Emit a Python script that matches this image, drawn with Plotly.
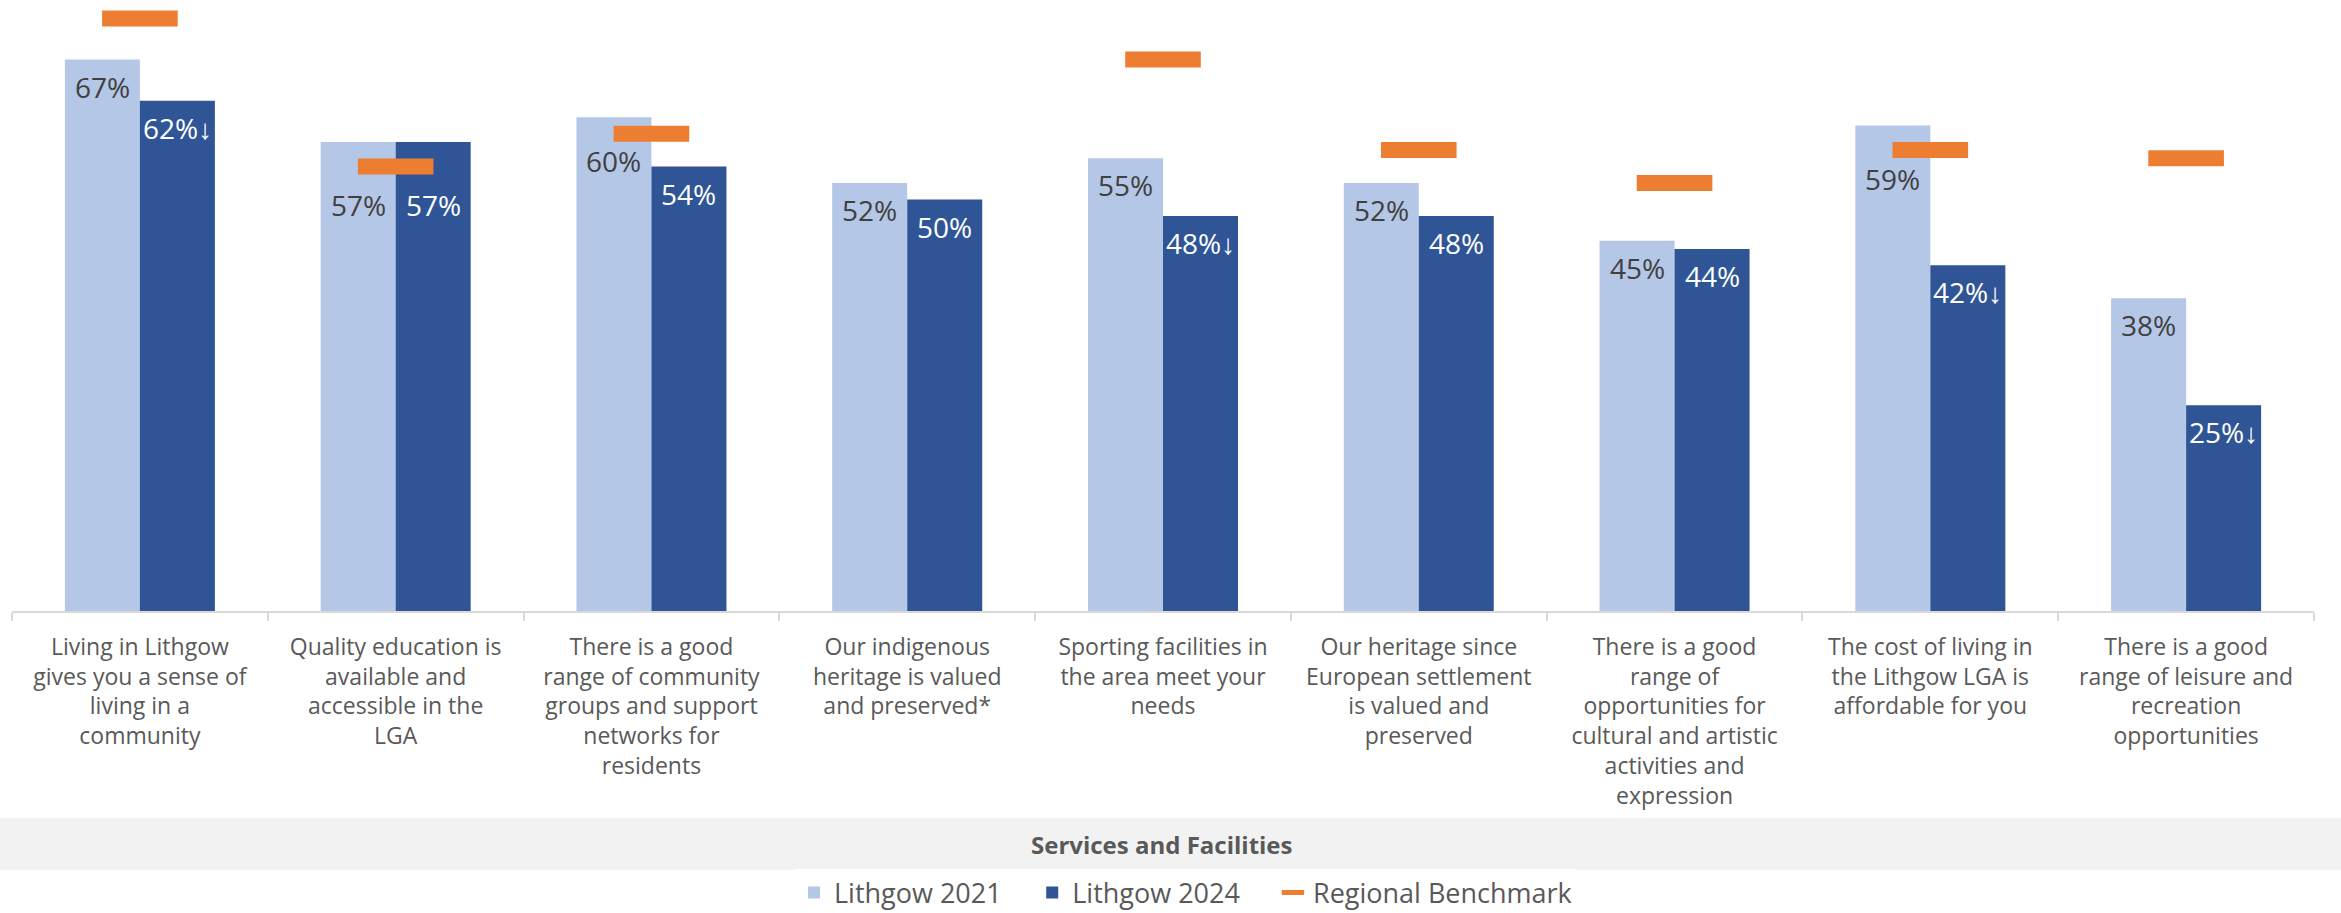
import plotly.graph_objects as go

categories = [
    "Living in Lithgow<br>gives you a sense of<br>living in a<br>community",
    "Quality education is<br>available and<br>accessible in the<br>LGA",
    "There is a good<br>range of community<br>groups and support<br>networks for<br>residents",
    "Our indigenous<br>heritage is valued<br>and preserved*",
    "Sporting facilities in<br>the area meet your<br>needs",
    "Our heritage since<br>European settlement<br>is valued and<br>preserved",
    "There is a good<br>range of<br>opportunities for<br>cultural and artistic<br>activities and<br>expression",
    "The cost of living in<br>the Lithgow LGA is<br>affordable for you",
    "There is a good<br>range of leisure and<br>recreation<br>opportunities",
]
lithgow_2021 = [67, 57, 60, 52, 55, 52, 45, 59, 38]
lithgow_2024 = [62, 57, 54, 50, 48, 48, 44, 42, 25]
sig_down_2024 = [True, False, False, False, True, False, False, True, True]
benchmark = [72, 54, 58, None, 67, 56, 52, 56, 55]

# extra downward nudges (px) of data labels that sit clear of the benchmark marks
label_nudge_2021 = [0, 36, 17, 0, 0, 0, 0, 27, 0]
label_nudge_2024 = [0, 36, 0, 0, 0, 0, 0, 0, 0]

FONT = "Open Sans"
C_LIGHT = "#B4C7E7"
C_DARK = "#2F5597"
C_ORANGE = "#ED7D31"
C_TEXT = "#595959"
NBSP = "\u00a0"

W, H = 2341, 913
ML, MR, MT, MB = 12, 27, 5, 302
plot_w = W - ML - MR
plot_h = H - MT - MB
px_per_pct = 8.23
ymax = plot_h / px_per_pct
bar_off = plot_w / len(categories) * (1 - 0.4135) / 4

fig = go.Figure()
fig.add_trace(go.Bar(
    x=categories, y=lithgow_2021, name="Lithgow 2021" + NBSP * 3 + "\u2009",
    marker=dict(color=C_LIGHT, line=dict(width=0)),
))
fig.add_trace(go.Bar(
    x=categories, y=lithgow_2024, name="Lithgow 2024" + NBSP * 4,
    marker=dict(color=C_DARK, line=dict(width=0)),
))
fig.add_trace(go.Scatter(
    x=categories, y=benchmark, name="Regional Benchmark", mode="markers",
    marker=dict(symbol="line-ew", size=54, color=C_ORANGE,
                line=dict(color=C_ORANGE, width=16)),
    cliponaxis=False,
))

annotations = []
for cat, v1, v2, sig, n1, n2 in zip(categories, lithgow_2021, lithgow_2024,
                                    sig_down_2024, label_nudge_2021, label_nudge_2024):
    annotations.append(dict(
        x=cat, y=v1, xref="x", yref="y", text=f"{v1}%", showarrow=False,
        xanchor="center", yanchor="top", xshift=-bar_off, yshift=-6 - n1,
        font=dict(family=FONT, size=28, color="#404040"),
    ))
    annotations.append(dict(
        x=cat, y=v2, xref="x", yref="y", text=f"{v2}%" + ("↓" if sig else ""),
        showarrow=False, xanchor="center", yanchor="top", xshift=bar_off, yshift=-6 - n2,
        font=dict(family=FONT, size=28, color="white"),
    ))

band_top = (611 - 818) / plot_h
band_bot = (611 - 870) / plot_h
annotations.append(dict(
    x=(1162 - ML) / plot_w, y=(band_top + band_bot) / 2, xref="paper", yref="paper",
    text="<b>Services and Facilities</b>", showarrow=False,
    xanchor="center", yanchor="middle",
    font=dict(family=FONT, size=24, color=C_TEXT),
))

fig.update_layout(
    width=W, height=H,
    margin=dict(l=ML, r=MR, t=MT, b=MB, autoexpand=False),
    paper_bgcolor="white", plot_bgcolor="white",
    barmode="group", bargap=0.4135, bargroupgap=0,
    font=dict(family=FONT, color=C_TEXT),
    showlegend=True,
    legend=dict(
        orientation="h", x=(794 - ML) / plot_w, xanchor="left",
        y=(611 - 893) / plot_h, yanchor="middle",
        font=dict(family=FONT, size=27, color=C_TEXT),
        traceorder="normal",
    ),
    xaxis=dict(
        type="category", showgrid=False, showline=True, linecolor="#D9D9D9", linewidth=2,
        ticks="outside", tickson="boundaries", ticklen=8, tickcolor="#D9D9D9", tickwidth=2,
        tickfont=dict(family=FONT, size=23, color=C_TEXT), tickangle=0,
        ticklabelstandoff=14, automargin=False,
        range=[-0.5, len(categories) - 0.5],
    ),
    yaxis=dict(range=[0, ymax], visible=False, showgrid=False, zeroline=False),
    annotations=annotations,
    shapes=[dict(
        type="rect", xref="paper", yref="paper",
        x0=-ML / plot_w, x1=(W - ML) / plot_w, y0=band_bot, y1=band_top,
        fillcolor="#F2F2F2", line=dict(width=0), layer="below",
    )],
)

fig.write_html(
    "out.html",
    config={"displayModeBar": False},
    post_script="document.body.style.margin='0px';",
)
